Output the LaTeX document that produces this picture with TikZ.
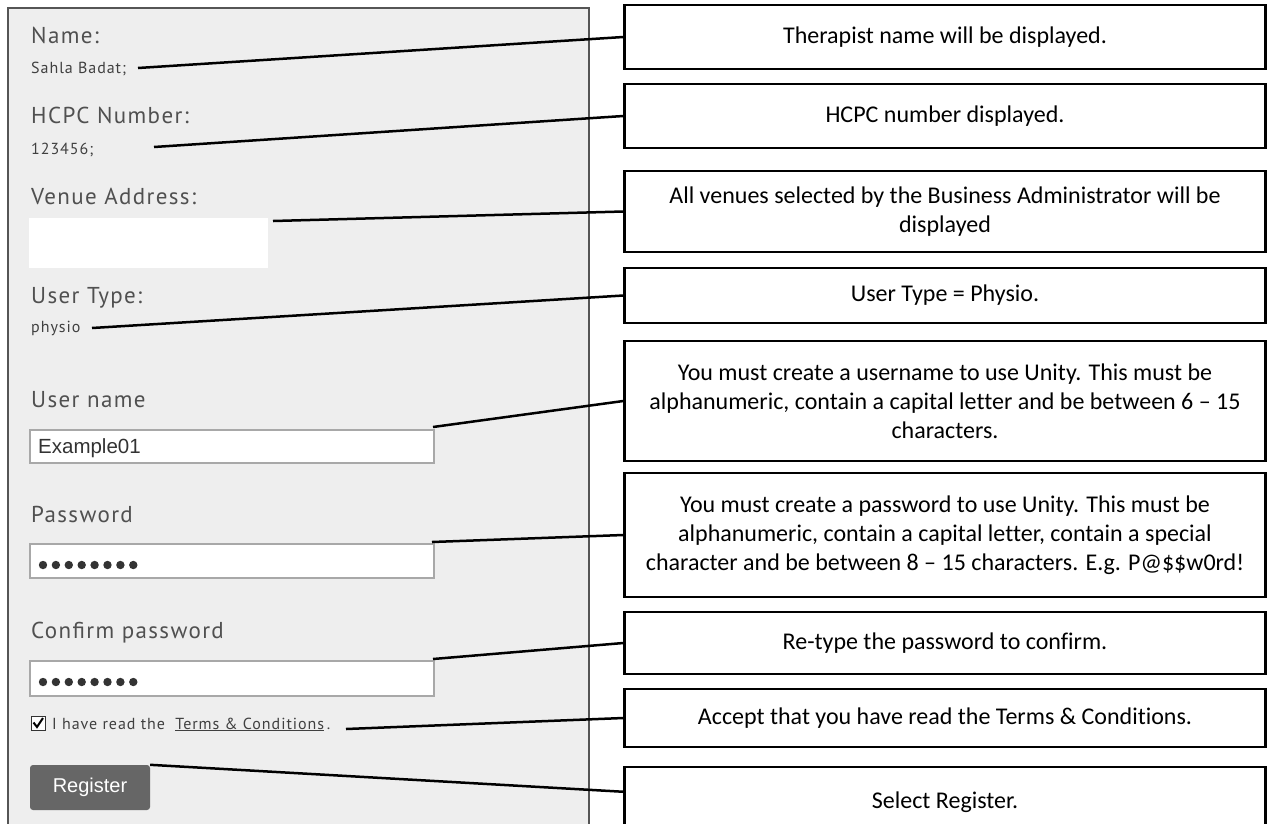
\documentclass[tikz,border=0pt]{standalone}
\usepackage{fontspec}
\setmainfont{Carlito}[Ligatures={NoCommon}]
\newfontfamily\formfont{PT Sans}[LetterSpace=6]
\newfontfamily\inputfont{Liberation Sans}
\definecolor{panelgray}{HTML}{EEEEEE}
\definecolor{panelline}{HTML}{555555}
\definecolor{labelgray}{HTML}{505050}
\definecolor{valuegray}{HTML}{404040}
\definecolor{fieldline}{HTML}{A8A8A8}
\definecolor{dotgray}{HTML}{333333}
\definecolor{btngray}{HTML}{666666}
\tikzset{
  infobox/.style={draw=black, line width=2.5pt, fill=white, minimum width=641pt,
    align=center, font=\fontsize{24}{29}\selectfont, inner sep=0pt},
  fieldlabel/.style={anchor=base west, inner sep=0pt, text=labelgray,
    font=\formfont\fontsize{23}{26}\selectfont},
  fieldvalue/.style={anchor=base west, inner sep=0pt, text=valuegray,
    font=\formfont\fontsize{16}{18}\selectfont},
  inputbox/.style={draw=fieldline, line width=1.5pt, fill=white},
  callout/.style={draw=black, line width=2.5pt},
  pwdot/.style={fill=dotgray, draw=none}
}
\begin{document}
\begin{tikzpicture}[x=1pt, y=-1pt]
\useasboundingbox (0,0) rectangle (1271,823);
\clip (0,0) rectangle (1271,823);

% form panel
\fill[panelgray] (8,8) rectangle (589,840);
\draw[panelline, line width=1.6pt] (8,840) -- (8,8) -- (589,8) -- (589,840);

% read-only fields
\node[fieldlabel] (lname) at (31,43) {Name:};
\node[fieldvalue] (vname) at (31,73) {Sahla Badat;};
\node[fieldlabel] (lhcpc) at (31,123) {HCPC Number:};
\node[fieldvalue] (vhcpc) at (31,154) {123456;};
\node[fieldlabel] (lvenue) at (31,204) {Venue Address:};
\fill[white] (29,218) rectangle (268,268);
\node[fieldlabel] (ltype) at (31,303) {User Type:};
\node[fieldvalue] (vtype) at (31,332) {physio};

% editable fields
\node[fieldlabel] (luser) at (31,407) {User name};
\draw[inputbox] (30,430) rectangle (434,463);
\node[anchor=base west, inner sep=0pt, text=dotgray, font=\inputfont\fontsize{20.5}{22}\selectfont] (vuser) at (38,453) {Example01};

\node[fieldlabel] (lpwd) at (31,522) {Password};
\draw[inputbox] (30,544) rectangle (434,578);
\foreach \i in {0,...,7} \fill[pwdot] (43+12.9*\i,565) circle (4.2pt);

\node[fieldlabel] (lconf) at (31,638) {Confirm password};
\draw[inputbox] (30,661) rectangle (434,696);
\foreach \i in {0,...,7} \fill[pwdot] (43+12.9*\i,682) circle (4.2pt);

% terms checkbox
\draw[fill=white, draw=dotgray, line width=1pt] (31,716) rectangle (45,730);
\draw[black, line width=2pt] (33.5,722.5) -- (37,727) -- (43,718);
\node[fieldvalue] (lterms) at (52,729) {I have read the \ \underline{Terms \& Conditions}\,.};

% register button
\node[fill=btngray, rounded corners=3pt, minimum width=120pt, minimum height=45pt,
  text=white, font=\inputfont\fontsize{20}{22}\selectfont, inner sep=0pt] (reg) at (90,787.5) {Register};

% connector start points
\coordinate (s1) at (138,68);
\coordinate (s2) at (154,147);
\coordinate (s3) at (273,221);
\coordinate (s4) at (92,328);
\coordinate (s5) at (433,427);
\coordinate (s6) at (432,542);
\coordinate (s7) at (433,659);
\coordinate (s8) at (346,729);

% explanation boxes
\node[infobox, minimum height=64pt] (b1) at (945,37) {Therapist name will be displayed.};
\node[infobox, minimum height=64pt] (b2) at (945,116) {HCPC number displayed.};
\node[infobox, minimum height=81pt] (b3) at (945,211.5) {All venues selected by the Business Administrator will be\\ displayed};
\node[infobox, minimum height=55pt] (b4) at (945,295.5) {User Type = Physio.};
\node[infobox, minimum height=120pt] (b5) at (945,401) {You must create a username to use Unity. This must be\\ alphanumeric, contain a capital letter and be between 6 – 15\\ characters.};
\node[infobox, minimum height=124pt] (b6) at (945,535) {You must create a password to use Unity. This must be\\ alphanumeric, contain a capital letter, contain a special\\ character and be between 8 – 15 characters. E.g. P@\$\$w0rd!};
\node[infobox, minimum height=62pt] (b7) at (945,643) {Re-type the password to confirm.};
\node[infobox, minimum height=58pt] (b8) at (945,718) {Accept that you have read the Terms \& Conditions.};
\node[infobox, minimum height=70pt] (b9) at (945,802) {Select Register.};
\coordinate (e9) at ([yshift=-26pt]b9.north west);

% connectors
\draw[callout] (s1) -- (b1.west);
\draw[callout] (s2) -- (b2.west);
\draw[callout] (s3) -- (b3.west);
\draw[callout] (s4) -- (b4.west);
\draw[callout] (s5) -- (b5.west);
\draw[callout] (s6) -- (b6.west);
\draw[callout] (s7) -- (b7.west);
\draw[callout] (s8) -- (b8.west);
\draw[callout] (reg.north east) -- (e9);
\end{tikzpicture}
\end{document}
